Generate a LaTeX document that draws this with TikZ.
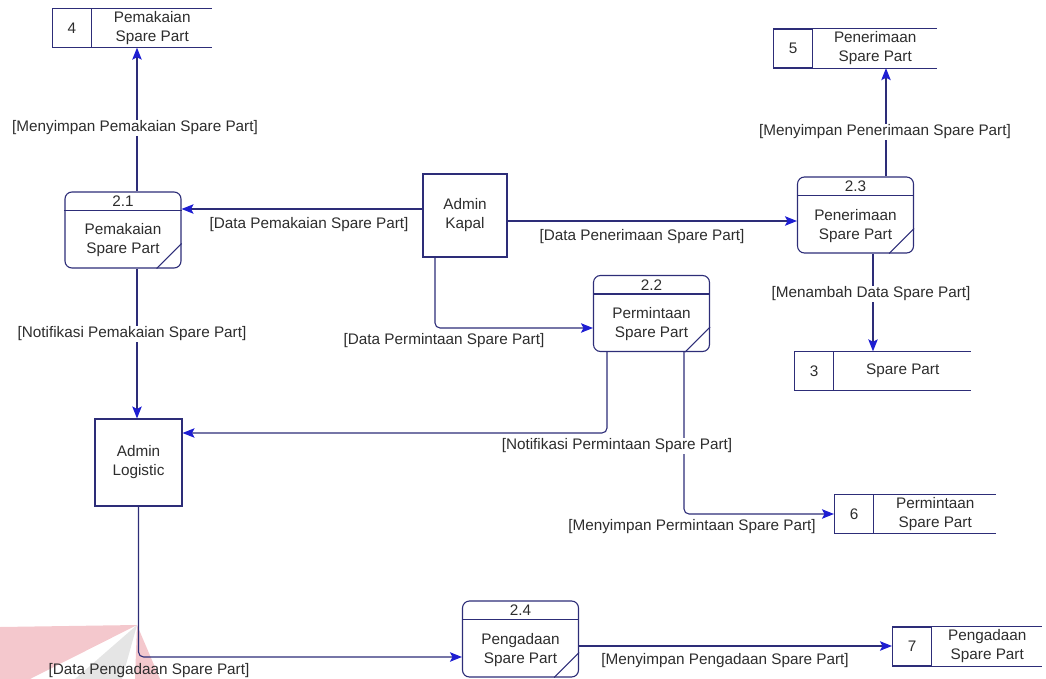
\documentclass[tikz,border=0pt]{standalone}
\usepackage{fontspec}
\setmainfont{Liberation Sans}
\usetikzlibrary{calc,arrows.meta}
\definecolor{linecol}{RGB}{45,45,120}
\definecolor{tipcol}{RGB}{30,30,210}
\definecolor{txtcol}{RGB}{45,45,45}
\definecolor{wmred}{RGB}{238,170,178}
\definecolor{wmgray}{RGB}{218,218,218}

% divider under the process number and the slash in the lower right corner
\newcommand{\procparts}[1]{%
  \draw[linecol,line width=1.1pt] ($(#1.north west)+(0,-19)$) -- ($(#1.north east)+(0,-19)$);
  \draw[linecol,line width=1.1pt] ($(#1.south east)+(-25,0)$) -- ($(#1.south east)+(0,25)$);
}
% open-ended data store outline
\newcommand{\storelines}[1]{%
  \draw[linecol,line width=1.1pt] (#1.north west) -- (#1.north east) (#1.south west) -- (#1.south east);
}

\begin{document}
\begin{tikzpicture}[x=1pt,y=1pt,
  every node/.style={font=\fontsize{15.3}{19}\selectfont, text=txtcol},
  entity/.style={draw=linecol, line width=1.1pt, align=center, inner sep=0pt},
  process/.style={draw=linecol, line width=1.1pt, rounded corners=7pt, minimum width=116pt, minimum height=76pt, inner sep=0pt},
  storenum/.style={draw=linecol, line width=1.1pt, minimum width=39pt, minimum height=39pt, inner sep=0pt},
  storetext/.style={align=center, minimum height=39pt, inner sep=0pt, anchor=west},
  flow/.style={draw=linecol, line width=1.1pt, rounded corners=5pt, -{Stealth[length=12pt,width=9.5pt,inset=2.5pt,color=tipcol]}},
  flowlabel/.style={fill=white, inner sep=1pt},
]
\useasboundingbox (0,0) rectangle (1046,-679);

% faint logo in the lower left corner
\fill[wmred, opacity=0.65] (0,-627) -- (137,-625) -- (30,-679) -- (0,-679) -- cycle;
\fill[wmgray, opacity=0.7] (137,-625) -- (75,-679) -- (122,-679) -- cycle;
\fill[wmred, opacity=0.65] (137,-625) -- (135,-679) -- (160,-679) -- cycle;

% external entities
\node[entity, minimum width=84pt, minimum height=83pt] (ak) at (465,-215.5) {Admin\\Kapal};
\node[entity, minimum width=87pt, minimum height=87pt] (al) at (138.5,-462.5) {Admin\\Logistic};

% processes
\node[process] (p21) at (123,-230) {};
\procparts{p21}
\node (p21id) at ($(p21.north)+(0,-10)$) {2.1};
\node[align=center] (p21nm) at ($(p21.center)+(0,-10)$) {Pemakaian\\Spare Part};

\node[process] (p22) at (651.5,-313.5) {};
\procparts{p22}
\node (p22id) at ($(p22.north)+(0,-10)$) {2.2};
\node[align=center] (p22nm) at ($(p22.center)+(0,-11)$) {Permintaan\\Spare Part};

\node[process] (p23) at (855.5,-215) {};
\procparts{p23}
\node (p23id) at ($(p23.north)+(0,-10)$) {2.3};
\node[align=center] (p23nm) at ($(p23.center)+(0,-11)$) {Penerimaan\\Spare Part};

\node[process] (p24) at (520.5,-639) {};
\procparts{p24}
\node (p24id) at ($(p24.north)+(0,-10)$) {2.4};
\node[align=center] (p24nm) at ($(p24.center)+(0,-11)$) {Pengadaan\\Spare Part};

% data stores
\node[storenum] (s4n) at (72,-28) {4};
\node[storetext, minimum width=120pt] (s4) at (s4n.east) {Pemakaian\\Spare Part};
\storelines{s4}
\node[storenum] (s5n) at (793,-48.5) {5};
\node[storetext, minimum width=124pt] (s5) at (s5n.east) {Penerimaan\\Spare Part};
\storelines{s5}
\node[storenum] (s3n) at (814,-371) {3};
\node[storetext, minimum width=137pt] (s3) at (s3n.east) {Spare Part};
\storelines{s3}
\node[storenum] (s6n) at (854,-514) {6};
\node[storetext, minimum width=122pt] (s6) at (s6n.east) {Permintaan\\Spare Part};
\storelines{s6}
\node[storenum] (s7n) at (912,-646.5) {7};
\node[storetext, minimum width=110pt] (s7) at (s7n.east) {Pengadaan\\Spare Part};
\storelines{s7}

% data flows
\coordinate (f1) at ($(p21.north)+(14,0)$);
\draw[flow] (f1) -- (f1 |- s4.south);
\coordinate (f2) at ($(ak.west)+(0,6.5)$);
\draw[flow] (f2) -- (f2 -| p21.east);
\coordinate (f3) at ($(ak.east)+(0,-5.5)$);
\draw[flow] (f3) -- (f3 -| p23.west);
\coordinate (f4) at ($(ak.south)+(-30,0)$);
\draw[flow] (f4) |- ($(p22.west)+(0,-14.5)$);
\coordinate (f5) at ($(p23.north)+(30.5,0)$);
\draw[flow] (f5) -- (f5 |- s5.south);
\coordinate (f6) at ($(p23.south)+(17.5,0)$);
\draw[flow] (f6) -- (f6 |- s3.north);
\coordinate (f7) at ($(p21.south)+(14,0)$);
\draw[flow] (f7) -- (f7 |- al.north);
\coordinate (f8) at ($(p22.south)+(-44.5,0)$);
\draw[flow] (f8) |- ($(al.east)+(0,29.5)$);
\coordinate (f9) at ($(p22.south)+(32.5,0)$);
\draw[flow] (f9) |- (s6n.west);
\draw[flow] (al.south) |- ($(p24.west)+(0,-18)$);
\coordinate (f11) at ($(p24.east)+(0,-7)$);
\draw[flow] (f11) -- (f11 -| s7n.west);

% flow labels
\node[flowlabel] (l1) at (135,-128) {[Menyimpan Pemakaian Spare Part]};
\node (l2) at (309,-225) {[Data Pemakaian Spare Part]};
\node (l3) at (642,-237) {[Data Penerimaan Spare Part]};
\node (l4) at (444,-341) {[Data Permintaan Spare Part]};
\node[flowlabel] (l5) at (885,-132) {[Menyimpan Penerimaan Spare Part]};
\node[flowlabel] (l6) at (871,-294) {[Menambah Data Spare Part]};
\node[flowlabel] (l7) at (132,-334) {[Notifikasi Pemakaian Spare Part]};
\node[flowlabel] (l8) at (617,-446) {[Notifikasi Permintaan Spare Part]};
\node (l9) at (692,-527) {[Menyimpan Permintaan Spare Part]};
\node (l10) at (149,-671) {[Data Pengadaan Spare Part]};
\node (l11) at (725,-661) {[Menyimpan Pengadaan Spare Part]};
\end{tikzpicture}
\end{document}
